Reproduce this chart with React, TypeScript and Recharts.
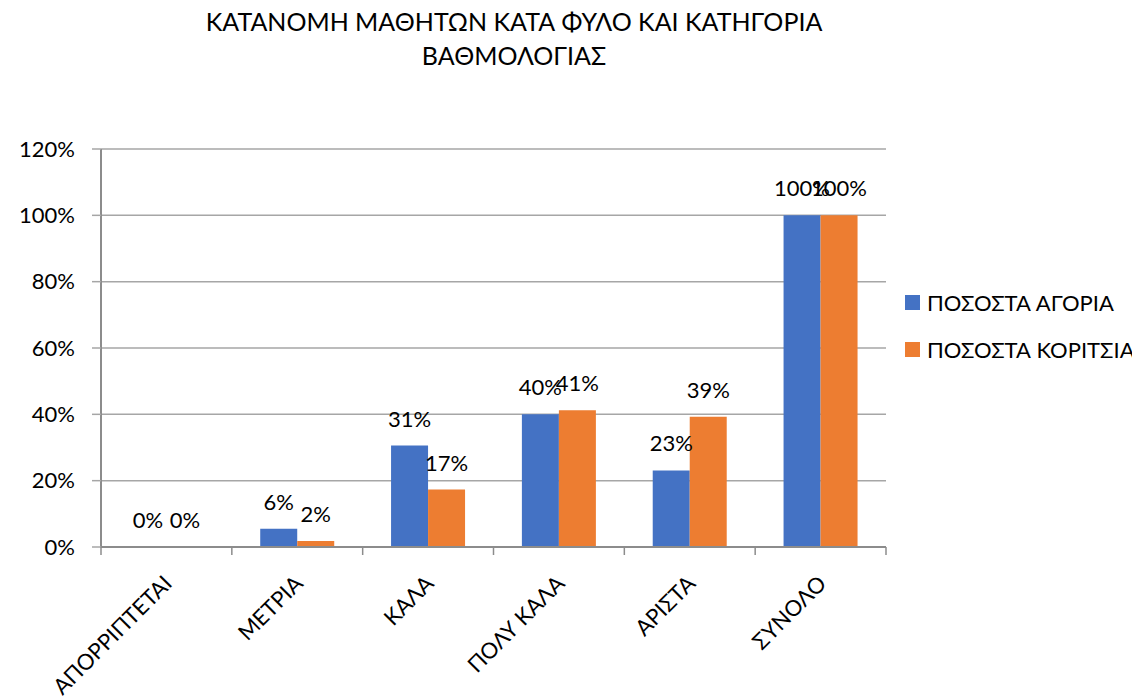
import React from 'react';
import { BarChart, Bar, XAxis, YAxis, CartesianGrid, Legend, LabelList } from 'recharts';

const categories = ['ΑΠΟΡΡΙΠΤΕΤΑΙ', 'ΜΕΤΡΙΑ', 'ΚΑΛΑ', 'ΠΟΛΥ ΚΑΛΑ', 'ΑΡΙΣΤΑ', 'ΣΥΝΟΛΟ'];
const boys = [0, 5.5, 30.6, 40.0, 23.1, 100];
const girls = [0, 1.8, 17.3, 41.2, 39.3, 100];
const yTicks = [0, 20, 40, 60, 80, 100, 120];
const seriesNames = ['ΠΟΣΟΣΤΑ ΑΓΟΡΙΑ', 'ΠΟΣΟΣΤΑ ΚΟΡΙΤΣΙΑ'];
const seriesColors = ['#4472C4', '#ED7D31'];
const titleLines = ['ΚΑΤΑΝΟΜΗ ΜΑΘΗΤΩΝ ΚΑΤΑ ΦΥΛΟ ΚΑΙ ΚΑΤΗΓΟΡΙΑ', 'ΒΑΘΜΟΛΟΓΙΑΣ'];

const data = categories.map((c, i) => ({ name: c, boys: boys[i], girls: girls[i] }));

const FONT = 'Lato, "Noto Sans", sans-serif';
const CHART_W = 1124;
const CHART_H = 692;
const MARGIN = { top: 141, right: 246, bottom: 23, left: 13 };
const YAXIS_W = 80;
const BAND = (CHART_W - MARGIN.left - MARGIN.right - YAXIS_W) / categories.length;
const AXIS_COLOR = '#8c8c8c';
const GRID_COLOR = '#a6a6a6';

const XTick = (props: any) => {
  const { x, y, payload, index, visibleTicksCount } = props;
  const half = BAND / 2;
  return (
    <g>
      <line x1={x - half} x2={x - half} y1={y} y2={y + 8} stroke={AXIS_COLOR} strokeWidth={1.5} />
      {index === visibleTicksCount - 1 && (
        <line x1={x + half} x2={x + half} y1={y} y2={y + 8} stroke={AXIS_COLOR} strokeWidth={1.5} />
      )}
      <text
        transform={`translate(${x + 7},${y + 38}) rotate(-45)`}
        textAnchor="end"
        fontFamily={FONT}
        fontSize={22}
        fill="#000"
      >
        {payload.value}
      </text>
    </g>
  );
};

const LegendContent = () => (
  <div style={{ fontFamily: FONT, fontSize: 22, color: '#000' }}>
    {seriesNames.map((n, i) => (
      <div key={n} style={{ display: 'flex', alignItems: 'center', height: 47, whiteSpace: 'nowrap' }}>
        <span style={{ display: 'inline-block', width: 15, height: 15, background: seriesColors[i], marginRight: 7 }} />
        <span>{n}</span>
      </div>
    ))}
  </div>
);

const labelFmt = (v: number) => `${Math.round(v)}%`;
const labelStyle = { fontFamily: FONT, fontSize: 22, fill: '#000' };

export default function App() {
  return (
    <div style={{ position: 'relative', width: CHART_W, height: CHART_H }}>
      <div
        style={{
          position: 'absolute',
          left: 0,
          top: -4,
          width: 1012,
          textAlign: 'center',
          fontFamily: FONT,
          fontSize: 25,
          lineHeight: '34px',
          color: '#000',
          zIndex: 2,
        }}
      >
        {titleLines.map((t) => (
          <div key={t}>{t}</div>
        ))}
      </div>
      <BarChart
        width={CHART_W}
        height={CHART_H}
        data={data}
        margin={MARGIN}
        barCategoryGap="21.7%"
        barGap={0}
        style={{ overflow: 'visible' }}
      >
        <CartesianGrid vertical={false} stroke={GRID_COLOR} strokeWidth={1.5} />
        <XAxis
          dataKey="name"
          height={130}
          interval={0}
          tickLine={false}
          tickSize={0}
          tickMargin={0}
          axisLine={{ stroke: AXIS_COLOR, strokeWidth: 2 }}
          tick={<XTick />}
        />
        <YAxis
          width={YAXIS_W}
          domain={[0, 120]}
          ticks={yTicks}
          interval={0}
          tickFormatter={(v: number) => `${v}%`}
          tickSize={9}
          tickMargin={17}
          tickLine={{ stroke: GRID_COLOR, strokeWidth: 1.5 }}
          axisLine={{ stroke: AXIS_COLOR, strokeWidth: 2 }}
          tick={{ fontFamily: FONT, fontSize: 22, fill: '#000' }}
        />
        <Legend
          layout="vertical"
          align="center"
          verticalAlign="middle"
          content={<LegendContent />}
          wrapperStyle={{ left: 897, top: 270.5, width: 230 }}
        />
        <Bar dataKey="boys" name={seriesNames[0]} fill={seriesColors[0]} minPointSize={0.01} isAnimationActive={false}>
          <LabelList dataKey="boys" position="top" offset={19} formatter={labelFmt} style={labelStyle} />
        </Bar>
        <Bar dataKey="girls" name={seriesNames[1]} fill={seriesColors[1]} minPointSize={0.01} isAnimationActive={false}>
          <LabelList dataKey="girls" position="top" offset={19} formatter={labelFmt} style={labelStyle} />
        </Bar>
      </BarChart>
    </div>
  );
}
